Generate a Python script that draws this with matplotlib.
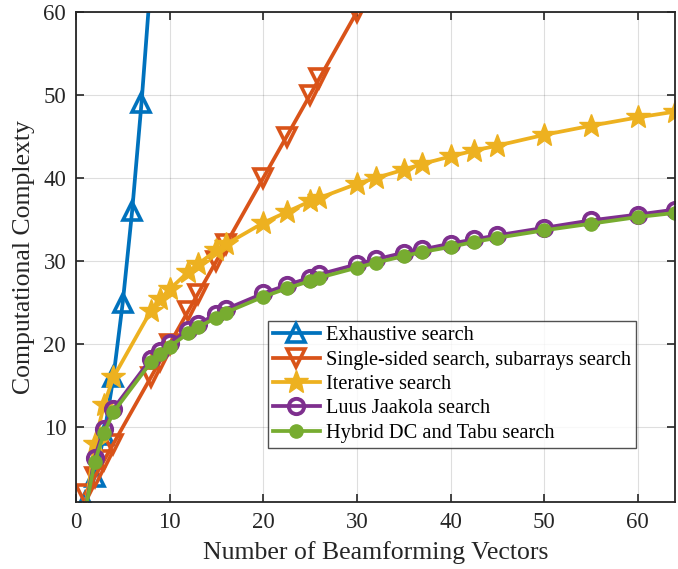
import matplotlib
matplotlib.use("Agg")
import matplotlib.pyplot as plt

plt.rcParams['font.family'] = ['Liberation Serif', 'DejaVu Serif']
plt.rcParams['mathtext.fontset'] = 'stix'

# Number of beamforming vectors used for the search-based methods
x_common = [1, 2, 3, 4, 8, 9, 10, 12, 13, 15, 16, 20, 22.5, 25, 26, 30, 32,
            35, 37, 40, 42.5, 45, 50, 55, 60, 64]
# Exhaustive search only has small sizes on the chart
x_exhaustive = [1, 2, 3, 4, 5, 6, 7, 8]

exhaustive = [1, 4, 9, 16, 25, 36, 49, 64]
single_sided = [2, 4, 6, 8, 16, 18, 20, 24, 26, 30, 32, 40, 45, 50, 52, 60, 64,
                70, 74, 80, 85, 90, 100, 110, 120, 128]
iterative = [0, 8, 12.7, 16, 24, 25.4, 26.6, 28.7, 29.6, 31.3, 32, 34.6, 35.9,
             37.2, 37.6, 39.3, 40, 41.0, 41.7, 42.6, 43.3, 43.9, 45.2, 46.3,
             47.3, 48]
luus_jaakola = [0, 6.3, 9.8, 12.2, 18.2, 19.2, 20.1, 21.7, 22.4, 23.6, 24.2,
                26.1, 27.1, 28.0, 28.4, 29.6, 30.2, 31.0, 31.4, 32.1, 32.6,
                33.1, 34.0, 34.9, 35.6, 36.2]
hybrid = [0, 5.8, 9.3, 11.8, 17.8, 18.8, 19.7, 21.3, 22.0, 23.2, 23.8, 25.7,
          26.7, 27.6, 28.0, 29.2, 29.8, 30.6, 31.1, 31.7, 32.3, 32.8, 33.7,
          34.5, 35.3, 35.8]

labels = ["Exhaustive search", "Single-sided search, subarrays search",
          "Iterative search", "Luus Jaakola search", "Hybrid DC and Tabu search"]

c_blue = (0, 0.447, 0.741)
c_orange = (0.85, 0.325, 0.098)
c_yellow = (0.929, 0.694, 0.125)
c_purple = (0.494, 0.184, 0.556)
c_green = (0.466, 0.674, 0.188)
c_axis = (0.15, 0.15, 0.15)

fig = plt.figure(figsize=(6.78, 5.69), dpi=100)
ax = fig.add_axes([0.112, 0.118, 0.884, 0.861])

lw = 2.7
skip_first = list(range(1, len(x_common)))
ax.plot(x_exhaustive, exhaustive, color=c_blue, lw=lw, marker='^', ms=13,
        mfc='none', mew=2.6, label=labels[0])
ax.plot(x_common, single_sided, color=c_orange, lw=lw, marker='v', ms=13,
        mfc='none', mew=2.6, label=labels[1])
# points at zero fall below the axis, so their markers are hidden
ax.plot(x_common, iterative, color=c_yellow, lw=lw, marker='*', ms=18,
        mec=c_yellow, markevery=skip_first, label=labels[2])
ax.plot(x_common, luus_jaakola, color=c_purple, lw=lw, marker='o', ms=11,
        mfc='none', mew=2.8, markevery=skip_first, label=labels[3])
ax.plot(x_common, hybrid, color=c_green, lw=lw, marker='o', ms=9.5,
        mfc=c_green, mec=c_green, markevery=skip_first, label=labels[4])

ax.set_xlim(0, 64)
ax.set_ylim(1, 60)
ax.set_xticks(list(range(0, 61, 10)))
ax.set_yticks(list(range(10, 61, 10)))
ax.grid(True, color=c_axis, alpha=0.15, lw=0.8)
ax.set_axisbelow(True)

ax.tick_params(direction='in', top=True, right=True, labelsize=16.5,
               length=6, width=1.2, colors=c_axis, pad=7)
for sp in ax.spines.values():
    sp.set_linewidth(1.3)
    sp.set_color(c_axis)

ax.set_xlabel("Number of Beamforming Vectors", fontsize=18.5, color=c_axis,
              labelpad=6)
ax.set_ylabel("Computational Complexty", fontsize=18.5, color=c_axis,
              labelpad=6)

leg = ax.legend(loc='lower left', bbox_to_anchor=(0.32, 0.11), fontsize=14.7,
                frameon=True, fancybox=False, edgecolor=c_axis,
                borderpad=0.25, labelspacing=0.25, handlelength=2.3,
                handletextpad=0.3, borderaxespad=0)
leg.get_frame().set_linewidth(1.0)

fig.savefig("out.png", dpi=100)
